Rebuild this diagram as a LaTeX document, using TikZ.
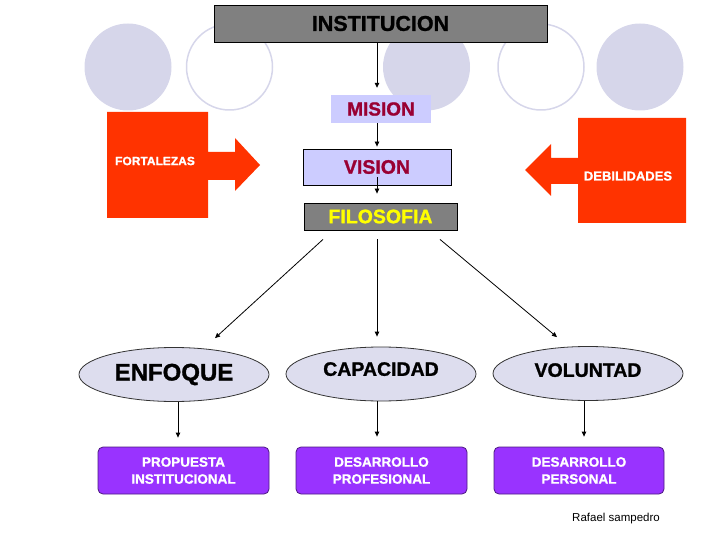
\documentclass[tikz,border=0pt]{standalone}
\usepackage{fontspec}
\setmainfont{Liberation Sans}[BoldFeatures={FakeBold=1.2}]
\usetikzlibrary{arrows.meta,shapes.geometric,calc}
\definecolor{boxgray}{HTML}{808080}
\definecolor{lav}{HTML}{CCCCFF}
\definecolor{maroon}{HTML}{990033}
\definecolor{yel}{HTML}{FFFF00}
\definecolor{redf}{HTML}{FF3300}
\definecolor{circ}{HTML}{D6D6EA}
\definecolor{ellf}{HTML}{DDDDEE}
\definecolor{purp}{HTML}{9933FF}
\definecolor{purpd}{HTML}{4C1A80}
\tikzset{
  arr/.style={draw=black, line width=0.8pt, -{Triangle[length=5pt,width=4.5pt]}},
  fillcirc/.style={fill=circ, draw=none},
  ringcirc/.style={fill=white, draw=circ, line width=1.5pt},
  topbox/.style={draw=black, line width=0.8pt, inner sep=0pt, font=\bfseries},
  ellbox/.style={ellipse, draw=black!80, fill=ellf, line width=0.8pt, inner sep=0pt,
     minimum width=190pt, minimum height=54pt, font=\bfseries},
  purbox/.style={rectangle, rounded corners=5pt, draw=purpd, fill=purp, line width=0.8pt,
     minimum width=171pt, minimum height=47pt, inner sep=0pt, text=white, align=center,
     font=\fontsize{13.5}{17}\selectfont\bfseries},
  redshape/.style={fill=redf, draw=none},
  redtext/.style={text=white, font=\fontsize{12}{14}\selectfont\bfseries, inner sep=0pt}
}
\begin{document}
\begin{tikzpicture}[x=1pt,y=-1pt]
\useasboundingbox (0,0) rectangle (720,540);
% background circles
\fill[fillcirc] (128,67) circle (43.5);
\filldraw[ringcirc] (229.5,67) circle (43);
\fill[fillcirc] (426.5,67) circle (43.5);
\filldraw[ringcirc] (541,67) circle (43);
\fill[fillcirc] (640,67) circle (43.5);
% red arrow shapes
\path[redshape] (107,112) -- (208,112) -- (208,152) -- (235,152) -- (235,138) -- (260,165)
  -- (235,191) -- (235,180) -- (208,180) -- (208,218) -- (107,218) -- cycle;
\node[redtext] (fort) at (155,161) {FORTALEZAS};
\path[redshape] (686,118) -- (578,118) -- (578,158) -- (551,158) -- (551,144) -- (525,170)
  -- (551,196) -- (551,184) -- (578,184) -- (578,223) -- (686,223) -- cycle;
\node[redtext, font=\fontsize{13}{15}\selectfont\bfseries] (deb) at (628,176) {DEBILIDADES};
% central column
\node[topbox, fill=boxgray, minimum width=333pt, minimum height=37pt,
  font=\fontsize{21.5}{24}\selectfont\bfseries] (inst) at (380.5,23.5) {INSTITUCION};
\node[fill=lav, draw=none, inner sep=0pt, minimum width=100pt, minimum height=28pt,
  text=maroon, font=\fontsize{19}{22}\selectfont\bfseries] (mis) at (381,109) {MISION};
\node[topbox, fill=lav, minimum width=148pt, minimum height=36pt, text=maroon,
  font=\fontsize{19.5}{22}\selectfont\bfseries] (vis) at (377,167) {VISION};
\node[topbox, fill=boxgray, minimum width=153pt, minimum height=27pt, text=yel,
  font=\fontsize{19.5}{22}\selectfont\bfseries] (fil) at (380.5,216.5) {FILOSOFIA};
\draw[arr, shorten >=7pt] (inst.south -| vis.center) -- (mis.north -| vis.center);
\draw[arr, shorten >=2pt] (mis.south -| vis.center) -- (vis.north);
\draw[arr, shorten >=9pt] ([yshift=8pt]vis.south) -- (fil.north -| vis.center);
% ellipses
\node[ellbox, font=\fontsize{24}{26}\selectfont\bfseries] (enf) at (174,374.5) {ENFOQUE};
\node[ellbox, text depth=10pt, font=\fontsize{19.5}{22}\selectfont\bfseries] (cap) at (381,374) {CAPACIDAD};
\node[ellbox, text depth=7pt, font=\fontsize{19.5}{22}\selectfont\bfseries] (vol) at (588,373.5) {VOLUNTAD};
\draw[arr] ($(fil.south)+(-57.5,9)$) -- ($(enf.north)+(41,-9)$);
\draw[arr] ($(fil.south)+(-3.5,9)$) -- ($(cap.north)+(-4,-10)$);
\draw[arr] ($(fil.south)+(59.5,9)$) -- ($(vol.north)+(-31,-9)$);
% purple boxes
\node[purbox] (prop) at (183.5,470.5) {PROPUESTA\\INSTITUCIONAL};
\node[purbox] (prof) at (381.5,470.5) {DESARROLLO\\PROFESIONAL};
\node[purbox, minimum width=170pt] (pers) at (579,470.5) {DESARROLLO\\PERSONAL};
\draw[arr, shorten >=9pt] ($(enf.south)+(4,0)$) -- ($(enf.south |- prop.north)+(4,0)$);
\draw[arr, shorten >=10pt] ($(cap.south)+(-4,0)$) -- ($(cap.south |- prof.north)+(-4,0)$);
\draw[arr, shorten >=10pt] ($(vol.south)+(-4,0)$) -- ($(vol.south |- pers.north)+(-4,0)$);
% author
\node[font=\fontsize{11.5}{13}\selectfont, inner sep=0pt] (auth) at (616,519) {Rafael sampedro};
\end{tikzpicture}
\end{document}
